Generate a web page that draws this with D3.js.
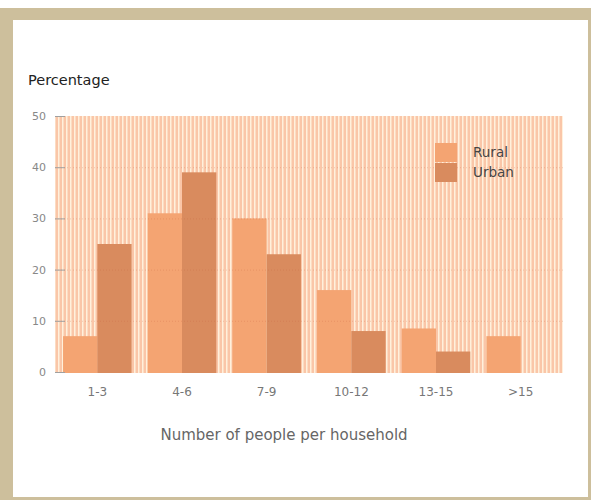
<!DOCTYPE html>
<html>
<head>
<meta charset="utf-8">
<script src="https://cdn.jsdelivr.net/npm/d3@7"></script>
<style>
  html, body { margin: 0; padding: 0; background: #fff; }
  svg { display: block; }
  text { font-family: "DejaVu Sans", sans-serif; }
</style>
</head>
<body>
<svg id="chart" width="591" height="500"></svg>
<script>
// Household size distribution, rural vs urban (percent of households)
const categories = ["1-3", "4-6", "7-9", "10-12", "13-15", ">15"];
const seriesNames = ["Rural", "Urban"];
const rural = [7, 31, 30, 16, 8.5, 7];
const urban = [25, 39, 23, 8, 4, null];
const yTicks = [0, 10, 20, 30, 40, 50];

const colors = { Rural: "#f4a472", Urban: "#d98b5e" };

const svg = d3.select("#chart");
const W = 591, H = 500;

// framed page
svg.append("rect").attr("x", 0).attr("y", 8).attr("width", W).attr("height", H - 8).attr("fill", "#cdbf9c");
svg.append("rect").attr("x", 13).attr("y", 20).attr("width", 575).attr("height", 477).attr("fill", "#ffffff");

const plot = { left: 55, right: 563, top: 116, bottom: 373 };

const x0 = d3.scaleBand().domain(categories).range([plot.left, plot.right]).paddingInner(0.19).paddingOuter(0.095);
const x1 = d3.scaleBand().domain(seriesNames).range([0, x0.bandwidth()]);
const y = d3.scaleLinear().domain([0, 50]).range([372, plot.top]);

// striped backdrop
const defs = svg.append("defs");
const pat = defs.append("pattern").attr("id", "stripes").attr("patternUnits", "userSpaceOnUse")
  .attr("width", 4).attr("height", 4);
pat.append("rect").attr("width", 4).attr("height", 4).attr("fill", "#fac6a8");
pat.append("rect").attr("x", 2).attr("width", 1).attr("height", 4).attr("fill", "#fff0dc");
pat.append("rect").attr("x", 3).attr("width", 1).attr("height", 4).attr("fill", "#fcdcc2");

svg.append("rect").attr("x", plot.left).attr("y", plot.top)
  .attr("width", plot.right - plot.left).attr("height", plot.bottom - plot.top)
  .attr("fill", "url(#stripes)");

// bars
const rows = categories.map((c, i) => ({ cat: c, vals: [
  { key: "Rural", v: rural[i] }, { key: "Urban", v: urban[i] }
].filter(d => d.v != null) }));

const g = svg.append("g");
g.selectAll("g.cat").data(rows).join("g").attr("class", "cat")
  .attr("transform", d => `translate(${x0(d.cat)},0)`)
  .selectAll("rect").data(d => d.vals).join("rect")
  .attr("x", d => x1(d.key))
  .attr("y", d => y(d.v))
  .attr("width", x1.bandwidth())
  .attr("height", d => plot.bottom - y(d.v))
  .attr("fill", d => colors[d.key]);

// dotted gridlines showing through
svg.append("g").selectAll("line").data(yTicks.filter(t => t > 0 && t < 50)).join("line")
  .attr("x1", plot.left).attr("x2", plot.right)
  .attr("y1", d => y(d) + 0.5).attr("y2", d => y(d) + 0.5)
  .attr("stroke", "#c8603a").attr("stroke-opacity", 0.25)
  .attr("stroke-dasharray", "1,2");

// y axis: short inward ticks and labels
const yAxis = d3.axisRight(y).tickValues(yTicks).tickSize(10).tickFormat(d3.format("d"));
const ya = svg.append("g").attr("transform", `translate(${plot.left},0)`).call(yAxis);
ya.select(".domain").remove();
ya.selectAll(".tick line").attr("stroke", "#a0a0a0").attr("stroke-width", 1);
ya.selectAll(".tick text").attr("fill", "#888").attr("font-size", 11).attr("text-anchor", "end")
  .attr("x", -9).attr("font-family", "DejaVu Sans, sans-serif");

// x axis labels
const xAxis = d3.axisBottom(x0).tickSize(0).tickPadding(14);
const xa = svg.append("g").attr("transform", `translate(0,${plot.bottom})`).call(xAxis);
xa.select(".domain").remove();
xa.selectAll(".tick text").attr("fill", "#777").attr("font-size", 12).attr("font-family", "DejaVu Sans, sans-serif");

// titles
svg.append("text").attr("x", 28).attr("y", 85).attr("font-size", 14.5).attr("fill", "#222").text("Percentage");
svg.append("text").attr("x", 284).attr("y", 440).attr("text-anchor", "middle")
  .attr("font-size", 15).attr("fill", "#666").text("Number of people per household");

// legend
const leg = svg.append("g").attr("transform", "translate(435,143)");
seriesNames.forEach((s, i) => {
  leg.append("rect").attr("x", 0).attr("y", i * 20).attr("width", 22).attr("height", 19).attr("fill", colors[s]);
  leg.append("text").attr("x", 38).attr("y", i * 20 + 14).attr("font-size", 13.5).attr("fill", "#444").text(s);
});
</script>
</body>
</html>
